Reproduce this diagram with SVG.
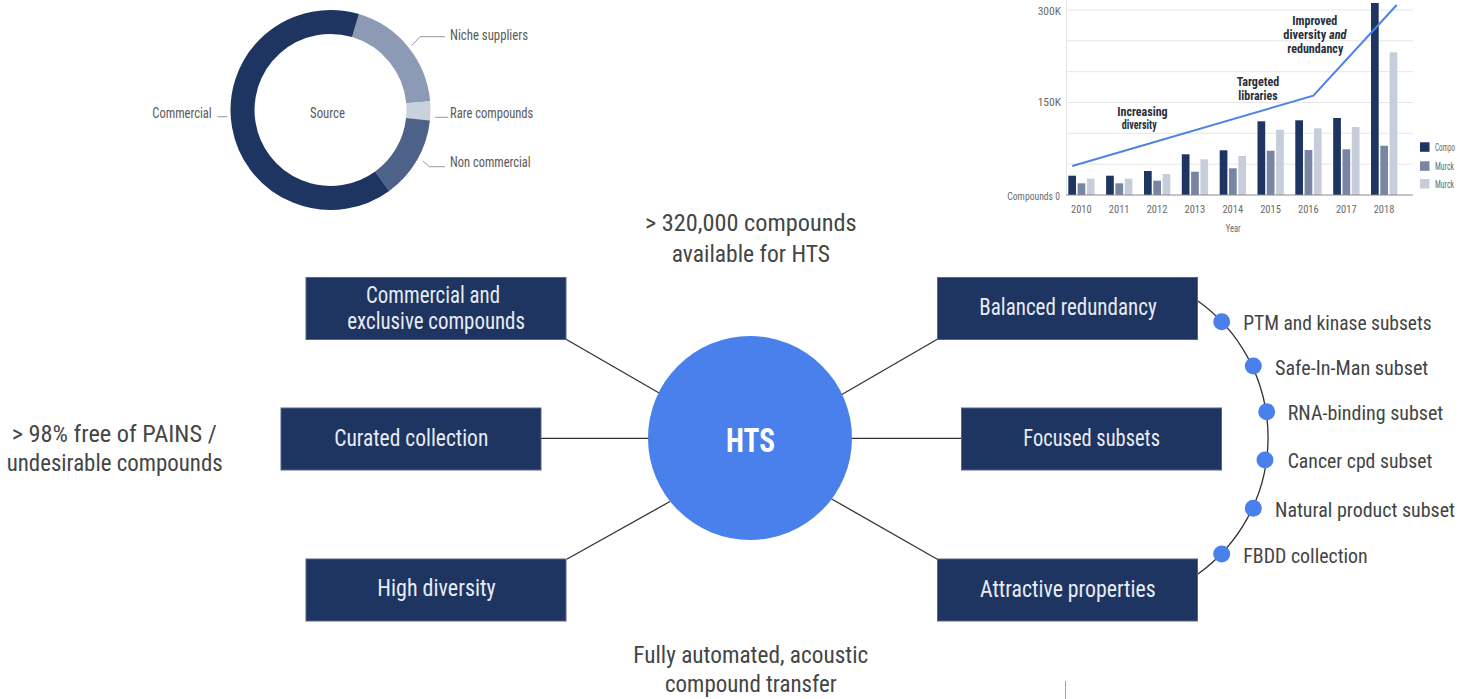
<svg xmlns="http://www.w3.org/2000/svg" width="1460" height="699" viewBox="0 0 1460 699">
  <style>
    text { font-family: "Roboto Condensed", "Liberation Sans Narrow", "DejaVu Sans Condensed", "DejaVu Sans", sans-serif; font-stretch: condensed; }
    .box { fill: #1e3461; stroke: #54658a; stroke-width: 1; }
    .boxtxt { fill: #e8ecf4; font-size: 23px; }
    .big { fill: #454545; font-size: 23px; }
    .sub { fill: #444444; font-size: 21px; }
    .dot { fill: #4a80ec; }
    .conn { stroke: #333333; stroke-width: 1.3; fill: none; }
    .lbl { fill: #5a5a5a; font-size: 14px; }
    .lead { stroke: #9a9a9a; stroke-width: 1; fill: none; }
    .ax { fill: #6a6a6a; font-size: 11.5px; }
    .grid { stroke: #e6e6e6; stroke-width: 1; }
    .note { fill: #2a2f3c; font-size: 12.5px; font-weight: bold; }
    .b1 { fill: #1e3461; }
    .b2 { fill: #7886a4; }
    .b3 { fill: #c7cdda; }
  </style>

  <!-- source donut -->
  <g id="donut">
    <g fill="none" stroke-width="24">
      <path d="M 355.5 25.6 A 88 88 0 0 1 418.2 102.3" stroke="#8c9ab5"/>
      <path d="M 418.2 102.3 A 88 88 0 0 1 418.0 119.2" stroke="#c9d0de"/>
      <path d="M 418.0 119.2 A 88 88 0 0 1 382.2 181.2" stroke="#4e6189"/>
      <path d="M 382.2 181.2 A 88 88 0 1 1 355.5 25.6" stroke="#1e3461"/>
    </g>
    <polyline class="lead" points="411.7,45.7 420,36.7 445,36.7"/>
    <polyline class="lead" points="435,117.3 448.3,117.3"/>
    <polyline class="lead" points="422.7,160.7 429.3,166.7 445,166.7"/>
    <polyline class="lead" points="217.3,116.7 227.3,116.7"/>
    <text class="lbl" x="450" y="39.5" textLength="78" lengthAdjust="spacingAndGlyphs">Niche suppliers</text>
    <text class="lbl" x="450" y="118" textLength="83.3" lengthAdjust="spacingAndGlyphs">Rare compounds</text>
    <text class="lbl" x="450" y="167" textLength="80.7" lengthAdjust="spacingAndGlyphs">Non commercial</text>
    <text class="lbl" x="152.3" y="117.5" textLength="59.4" lengthAdjust="spacingAndGlyphs">Commercial</text>
    <text class="lbl" x="310" y="117.5" textLength="35" lengthAdjust="spacingAndGlyphs">Source</text>
  </g>

  <!-- growth bar chart -->
  <g id="chart">
    <g class="grid">
      <line x1="1066" y1="10" x2="1413" y2="10"/>
      <line x1="1066" y1="40.8" x2="1413" y2="40.8"/>
      <line x1="1066" y1="71.7" x2="1413" y2="71.7"/>
      <line x1="1066" y1="102.5" x2="1413" y2="102.5"/>
      <line x1="1066" y1="133.3" x2="1413" y2="133.3"/>
      <line x1="1066" y1="164.2" x2="1413" y2="164.2"/>
      <line x1="1066.5" y1="0" x2="1066.5" y2="195"/>
    </g>
    <g id="bars">
      <rect class="b1" x="1068.3" y="175.7" width="7.7" height="19.3"/>
      <rect class="b2" x="1077.6" y="183.3" width="7.7" height="11.7"/>
      <rect class="b3" x="1086.9" y="178.7" width="7.7" height="16.3"/>

      <rect class="b1" x="1106.1" y="175.7" width="7.7" height="19.3"/>
      <rect class="b2" x="1115.4" y="183.3" width="7.7" height="11.7"/>
      <rect class="b3" x="1124.7" y="178.7" width="7.7" height="16.3"/>

      <rect class="b1" x="1144.0" y="171" width="7.7" height="24"/>
      <rect class="b2" x="1153.3" y="180.7" width="7.7" height="14.3"/>
      <rect class="b3" x="1162.6" y="174" width="7.7" height="21"/>

      <rect class="b1" x="1181.8" y="154.3" width="7.7" height="40.7"/>
      <rect class="b2" x="1191.1" y="171.7" width="7.7" height="23.3"/>
      <rect class="b3" x="1200.4" y="159.3" width="7.7" height="35.7"/>

      <rect class="b1" x="1219.7" y="150.3" width="7.7" height="44.7"/>
      <rect class="b2" x="1229.0" y="168.3" width="7.7" height="26.7"/>
      <rect class="b3" x="1238.3" y="156" width="7.7" height="39"/>

      <rect class="b1" x="1257.5" y="121.3" width="7.7" height="73.7"/>
      <rect class="b2" x="1266.8" y="150.7" width="7.7" height="44.3"/>
      <rect class="b3" x="1276.1" y="129.7" width="7.7" height="65.3"/>

      <rect class="b1" x="1295.3" y="120.3" width="7.7" height="74.7"/>
      <rect class="b2" x="1304.6" y="150" width="7.7" height="45"/>
      <rect class="b3" x="1313.9" y="128.3" width="7.7" height="66.7"/>

      <rect class="b1" x="1333.2" y="118" width="7.7" height="77"/>
      <rect class="b2" x="1342.5" y="149.3" width="7.7" height="45.7"/>
      <rect class="b3" x="1351.8" y="127" width="7.7" height="68"/>

      <rect class="b1" x="1371.0" y="3" width="7.7" height="192"/>
      <rect class="b2" x="1380.3" y="145.7" width="7.7" height="49.3"/>
      <rect class="b3" x="1389.6" y="52.3" width="7.7" height="142.7"/>
    </g>
    <line x1="1066" y1="195" x2="1413" y2="195" stroke="#8a8a8a" stroke-width="1"/>
    <polyline points="1072.3,166 1313.3,95.7 1396.7,5" fill="none" stroke="#4d82e6" stroke-width="2"/>

    <text class="ax" x="1037.7" y="14.5" textLength="23.3" lengthAdjust="spacingAndGlyphs">300K</text>
    <text class="ax" x="1037.7" y="106" textLength="23.3" lengthAdjust="spacingAndGlyphs">150K</text>
    <text class="ax" x="1007.3" y="199.5" textLength="52.7" lengthAdjust="spacingAndGlyphs">Compounds 0</text>
    <text class="ax" x="1071" y="212.7" textLength="20.7" lengthAdjust="spacingAndGlyphs">2010</text>
    <text class="ax" x="1108.8" y="212.7" textLength="20.7" lengthAdjust="spacingAndGlyphs">2011</text>
    <text class="ax" x="1146.7" y="212.7" textLength="20.7" lengthAdjust="spacingAndGlyphs">2012</text>
    <text class="ax" x="1184.5" y="212.7" textLength="20.7" lengthAdjust="spacingAndGlyphs">2013</text>
    <text class="ax" x="1222.4" y="212.7" textLength="20.7" lengthAdjust="spacingAndGlyphs">2014</text>
    <text class="ax" x="1260.2" y="212.7" textLength="20.7" lengthAdjust="spacingAndGlyphs">2015</text>
    <text class="ax" x="1298" y="212.7" textLength="20.7" lengthAdjust="spacingAndGlyphs">2016</text>
    <text class="ax" x="1335.9" y="212.7" textLength="20.7" lengthAdjust="spacingAndGlyphs">2017</text>
    <text class="ax" x="1373.7" y="212.7" textLength="20.7" lengthAdjust="spacingAndGlyphs">2018</text>
    <text class="ax" x="1225.7" y="231.5" textLength="15" lengthAdjust="spacingAndGlyphs">Year</text>

    <text class="note" x="1117.3" y="116" textLength="50.3" lengthAdjust="spacingAndGlyphs">Increasing</text>
    <text class="note" x="1121.7" y="128.5" textLength="35" lengthAdjust="spacingAndGlyphs">diversity</text>
    <text class="note" x="1236.7" y="86" textLength="42.6" lengthAdjust="spacingAndGlyphs">Targeted</text>
    <text class="note" x="1238.3" y="100" textLength="39.3" lengthAdjust="spacingAndGlyphs">libraries</text>
    <text class="note" x="1292.3" y="25" textLength="45" lengthAdjust="spacingAndGlyphs">Improved</text>
    <text class="note" x="1283.3" y="39.3" textLength="63.3" lengthAdjust="spacingAndGlyphs">diversity <tspan font-style="italic">and</tspan></text>
    <text class="note" x="1287.3" y="53.3" textLength="56" lengthAdjust="spacingAndGlyphs">redundancy</text>

    <!-- legend -->
    <rect class="b1" x="1420" y="142.3" width="9.5" height="9.5"/>
    <rect class="b2" x="1420" y="161.3" width="9.5" height="9.5"/>
    <rect class="b3" x="1420" y="179" width="9.5" height="9.5"/>
    <text class="ax" x="1435" y="150.5" font-size="12" textLength="20" lengthAdjust="spacingAndGlyphs">Compo</text>
    <text class="ax" x="1435" y="170" font-size="12" textLength="19" lengthAdjust="spacingAndGlyphs">Murck</text>
    <text class="ax" x="1435" y="187.7" font-size="12" textLength="19" lengthAdjust="spacingAndGlyphs">Murck</text>
  </g>

  <!-- connectors -->
  <g id="connectors">
    <line class="conn" x1="566" y1="339.3" x2="660" y2="393.5"/>
    <line class="conn" x1="541" y1="438.3" x2="652" y2="438.3"/>
    <line class="conn" x1="566.7" y1="559.3" x2="670" y2="501.5"/>
    <line class="conn" x1="841" y1="395" x2="937.3" y2="339.3"/>
    <line class="conn" x1="848" y1="438.3" x2="961.7" y2="438.3"/>
    <line class="conn" x1="830" y1="498" x2="937.3" y2="559.3"/>
    <path class="conn" d="M 1198 301 A 168 168 0 0 1 1198 574"/>
  </g>

  <!-- hub -->
  <g id="hts">
    <circle cx="750" cy="438" r="102" fill="#4a80ec"/>
    <text x="726" y="452" font-size="34" font-weight="bold" fill="#ffffff" textLength="49" lengthAdjust="spacingAndGlyphs">HTS</text>
  </g>

  <!-- left nodes -->
  <g id="node-commercial">
    <rect class="box" x="306" y="277.5" width="260" height="62"/>
    <text class="boxtxt" x="366" y="303.3" textLength="134" lengthAdjust="spacingAndGlyphs">Commercial and</text>
    <text class="boxtxt" x="347.3" y="329.3" textLength="177.7" lengthAdjust="spacingAndGlyphs">exclusive compounds</text>
  </g>
  <g id="node-curated">
    <rect class="box" x="281" y="408" width="260" height="62"/>
    <text class="boxtxt" x="334.3" y="446" textLength="154" lengthAdjust="spacingAndGlyphs">Curated collection</text>
  </g>
  <g id="node-diversity">
    <rect class="box" x="306" y="559" width="260" height="62"/>
    <text class="boxtxt" x="377.3" y="596" textLength="118.4" lengthAdjust="spacingAndGlyphs">High diversity</text>
  </g>

  <!-- right nodes -->
  <g id="node-redundancy">
    <rect class="box" x="937.5" y="277.5" width="260" height="62"/>
    <text class="boxtxt" x="979.3" y="315" textLength="177.4" lengthAdjust="spacingAndGlyphs">Balanced redundancy</text>
  </g>
  <g id="node-focused">
    <rect class="box" x="961.5" y="408" width="260" height="62"/>
    <text class="boxtxt" x="1023.3" y="445.7" textLength="136.7" lengthAdjust="spacingAndGlyphs">Focused subsets</text>
  </g>
  <g id="node-properties">
    <rect class="box" x="937.5" y="559" width="260" height="62"/>
    <text class="boxtxt" x="980" y="596.7" textLength="175.7" lengthAdjust="spacingAndGlyphs">Attractive properties</text>
  </g>

  <!-- focused subset items -->
  <g id="subset-ptm">
    <circle class="dot" cx="1221.7" cy="321.7" r="8.5"/>
    <text class="sub" x="1243.3" y="330" textLength="188.4" lengthAdjust="spacingAndGlyphs">PTM and kinase subsets</text>
  </g>
  <g id="subset-sim">
    <circle class="dot" cx="1253.3" cy="366" r="8.5"/>
    <text class="sub" x="1275" y="375" textLength="153.3" lengthAdjust="spacingAndGlyphs">Safe-In-Man subset</text>
  </g>
  <g id="subset-rna">
    <circle class="dot" cx="1266.7" cy="411.7" r="8.5"/>
    <text class="sub" x="1287.7" y="420" textLength="155.6" lengthAdjust="spacingAndGlyphs">RNA-binding subset</text>
  </g>
  <g id="subset-cancer">
    <circle class="dot" cx="1265" cy="460" r="8.5"/>
    <text class="sub" x="1287.7" y="468.3" textLength="144.6" lengthAdjust="spacingAndGlyphs">Cancer cpd subset</text>
  </g>
  <g id="subset-natural">
    <circle class="dot" cx="1253.3" cy="508.3" r="8.5"/>
    <text class="sub" x="1275" y="516.7" textLength="180" lengthAdjust="spacingAndGlyphs">Natural product subset</text>
  </g>
  <g id="subset-fbdd">
    <circle class="dot" cx="1221.7" cy="554" r="8.5"/>
    <text class="sub" x="1243.3" y="563.3" textLength="124.4" lengthAdjust="spacingAndGlyphs">FBDD collection</text>
  </g>

  <!-- free-standing captions -->
  <g id="captions">
    <text class="big" x="645" y="231" textLength="211.7" lengthAdjust="spacingAndGlyphs">&gt; 320,000 compounds</text>
    <text class="big" x="671.7" y="262" textLength="158.3" lengthAdjust="spacingAndGlyphs">available for HTS</text>
    <text class="big" x="11.7" y="441.7" textLength="205" lengthAdjust="spacingAndGlyphs">&gt; 98% free of PAINS /</text>
    <text class="big" x="6.7" y="470.5" textLength="216" lengthAdjust="spacingAndGlyphs">undesirable compounds</text>
    <text class="big" x="633.3" y="663.3" textLength="235" lengthAdjust="spacingAndGlyphs">Fully automated, acoustic</text>
    <text class="big" x="665" y="692.3" textLength="171.7" lengthAdjust="spacingAndGlyphs">compound transfer</text>
  </g>

  <line x1="1065.5" y1="681" x2="1065.5" y2="699" stroke="#a0a0a0" stroke-width="1"/>
</svg>
